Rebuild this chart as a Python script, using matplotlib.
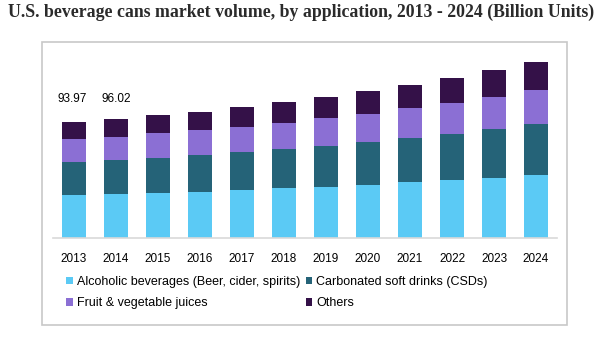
import matplotlib
matplotlib.use("Agg")
import matplotlib.pyplot as plt
from matplotlib.patches import Rectangle
import numpy as np

years = ["2013", "2014", "2015", "2016", "2017", "2018",
         "2019", "2020", "2021", "2022", "2023", "2024"]
alcoholic = [35.0, 35.7, 36.5, 37.3, 38.9, 40.5, 41.3, 43.0, 45.4, 47.0, 48.6, 51.0]
csd = [26.7, 27.4, 28.2, 29.8, 30.6, 31.4, 33.0, 34.7, 35.5, 37.1, 39.5, 41.1]
juices = [18.6, 18.5, 20.2, 20.2, 20.2, 21.0, 22.6, 22.6, 24.2, 25.0, 25.8, 27.4]
others = [13.67, 14.42, 14.5, 14.5, 16.1, 16.9, 16.9, 18.5, 18.5, 20.2, 21.8, 22.6]
labeled_totals = {"2013": 93.97, "2014": 96.02}
series_names = ["Alcoholic beverages (Beer, cider, spirits)",
                "Carbonated soft drinks (CSDs)",
                "Fruit & vegetable juices",
                "Others"]
colors = ["#5BCAF5", "#256378", "#8B6FD4", "#341148"]

W, H = 612, 338
fig = plt.figure(figsize=(W / 100, H / 100), dpi=100)
fig.patch.set_facecolor("white")

# outer frame
fig.patches.append(Rectangle((42 / W, 1 - 325 / H), (567 - 42) / W, (325 - 42) / H,
                             transform=fig.transFigure, fill=False,
                             edgecolor="#C8C8C8", linewidth=1.2))

base_px = 238.3
top_px = 42
left_px, right_px = 53, 557
ax = fig.add_axes([left_px / W, 1 - base_px / H, (right_px - left_px) / W, (base_px - top_px) / H])
scale = 0.806
ax.set_ylim(0, (base_px - top_px) * scale)
ax.set_xlim(-0.5, 11.5)

x = np.arange(len(years))
bottom = np.zeros(len(years))
handles = []
for vals, c, name in zip([alcoholic, csd, juices, others], colors, series_names):
    b = ax.bar(x, vals, width=0.571, bottom=bottom, color=c, label=name, linewidth=0)
    handles.append(b)
    bottom += np.array(vals)

for yr, tot in labeled_totals.items():
    i = years.index(yr)
    ax.text(i - 0.05 * (i == 0), 112.5, f"{tot:.2f}", ha="center", va="center",
            fontsize=8.5, family="Liberation Sans", color="black")

for s in ["top", "right", "left"]:
    ax.spines[s].set_visible(False)
ax.spines["bottom"].set_color("#D9D9D9")
ax.spines["bottom"].set_linewidth(1.2)
ax.set_yticks([])
ax.set_xticks(x)
ax.set_xticklabels(years, fontsize=8.5, family="Liberation Sans")
ax.tick_params(axis="x", length=0, pad=10.5)
ax.set_facecolor("none")

fig.text(8 / W, 1 - 12 / H, "U.S. beverage cans market volume, by application, 2013 - 2024 (Billion Units)",
         fontsize=12.8, fontweight="bold", family="Liberation Serif", color="#2B2B2B",
         ha="left", va="center")

order = [0, 2, 1, 3]
leg = fig.legend([handles[i] for i in order], [series_names[i] for i in order],
                 ncol=2, loc="upper left", bbox_to_anchor=(66 / W, 1 - 276 / H),
                 frameon=False, prop={"family": "Liberation Sans", "size": 9.0},
                 handlelength=0.55, handleheight=0.55, handletextpad=0.3,
                 columnspacing=0.45, labelspacing=0.75, borderaxespad=0, borderpad=0)

fig.savefig("out.png", dpi=100, facecolor="white")
